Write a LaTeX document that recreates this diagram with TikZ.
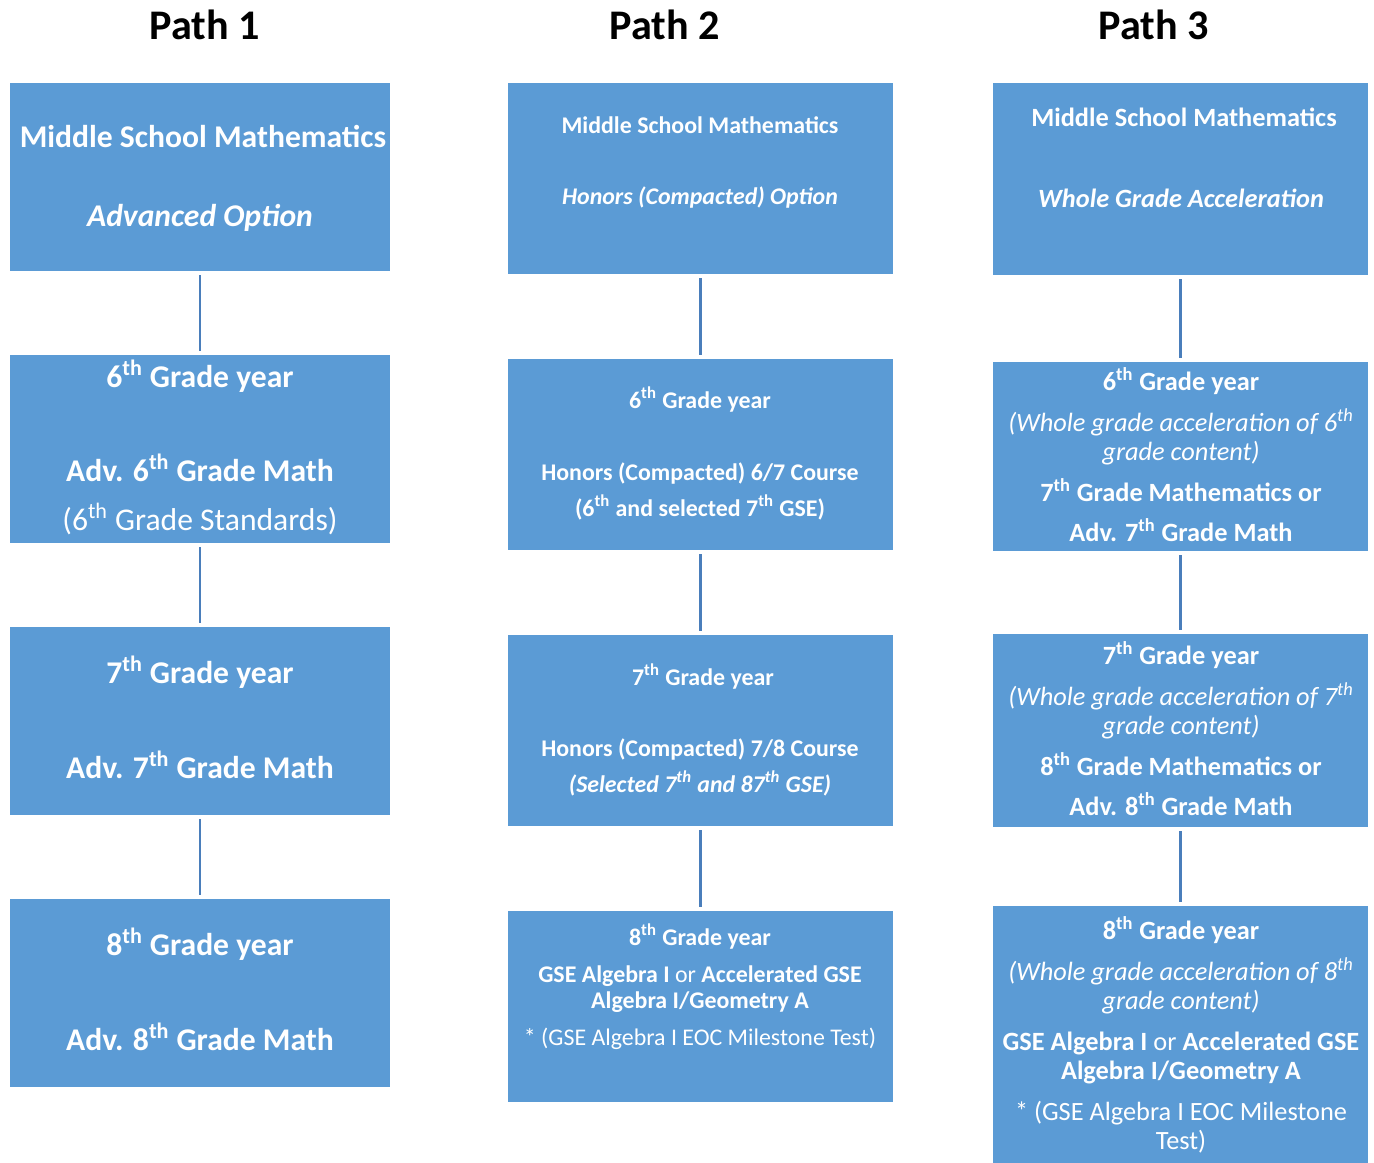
\documentclass[tikz,border=0pt]{standalone}
\usepackage{fontspec}
\setmainfont{Carlito}
\usepackage{tikz}

\definecolor{boxblue}{HTML}{5B9BD5}
\definecolor{linkblue}{HTML}{4A7EBB}
\newcommand{\gth}[1]{#1\textsuperscript{th}}

\begin{document}
\begin{tikzpicture}[x=0.02cm, y=-0.02cm,
    box/.style={fill=boxblue, draw=none, inner sep=0pt},
    link/.style={linkblue, line width=1.4pt, shorten <=2.3pt, shorten >=2.3pt},
    heading/.style={font=\fontsize{24}{28}\selectfont\bfseries, anchor=base, inner sep=0pt},
    one/.style={text=white, font=\fontsize{18}{21}\selectfont\bfseries, anchor=base, inner sep=0pt},
    two/.style={text=white, font=\fontsize{13.6}{16}\selectfont\bfseries, anchor=base, inner sep=0pt},
    three/.style={text=white, font=\fontsize{15}{18}\selectfont\bfseries, anchor=base, inner sep=0pt}]
    \useasboundingbox (0,0) rectangle (1374,1163);

    % headings
    \node[heading] (h1) at (205,39) {Path 1};
    \node[heading] (h2) at (665,39) {Path 2};
    \node[heading] (h3) at (1154,39) {Path 3};

    % path 1
    \node[box, minimum width=7.6cm, minimum height=3.76cm] (p1top) at (200,177) {};
    \node[box, minimum width=7.6cm, minimum height=3.76cm] (p1six) at (200,449) {};
    \node[box, minimum width=7.6cm, minimum height=3.76cm] (p1seven) at (200,721) {};
    \node[box, minimum width=7.6cm, minimum height=3.76cm] (p1eight) at (200,993) {};
    \draw[link] (p1top) -- (p1six);
    \draw[link] (p1six) -- (p1seven);
    \draw[link] (p1seven) -- (p1eight);
    \node[one] (p1topa) at (203,147) {Middle School Mathematics};
    \node[one] (p1topb) at (200,226) {\itshape Advanced Option};
    \node[one] (p1sixa) at (200,387) {\gth{6} Grade year};
    \node[one] (p1sixb) at (200,481) {Adv. \gth{6} Grade Math};
    \node[one] (p1sixc) at (200,530) {\mdseries(\gth{6} Grade Standards)};
    \node[one] (p1sevena) at (200,683) {\gth{7} Grade year};
    \node[one] (p1sevenb) at (200,778) {Adv. \gth{7} Grade Math};
    \node[one] (p1eighta) at (200,955) {\gth{8} Grade year};
    \node[one] (p1eightb) at (200,1050) {Adv. \gth{8} Grade Math};

    % path 2
    \node[box, minimum width=7.7cm, minimum height=3.82cm] (p2top) at (700.5,178.5) {};
    \node[box, minimum width=7.7cm, minimum height=3.82cm] (p2six) at (700.5,454.5) {};
    \node[box, minimum width=7.7cm, minimum height=3.82cm] (p2seven) at (700.5,730.5) {};
    \node[box, minimum width=7.7cm, minimum height=3.82cm] (p2eight) at (700.5,1006.5) {};
    \draw[link] (p2top) -- (p2six);
    \draw[link] (p2six) -- (p2seven);
    \draw[link] (p2seven) -- (p2eight);
    \node[two] (p2topa) at (700,133) {Middle School Mathematics};
    \node[two] (p2topb) at (700,204) {\itshape Honors (Compacted) Option};
    \node[two] (p2sixa) at (700,408) {\gth{6} Grade year};
    \node[two] (p2sixb) at (700,480) {Honors (Compacted) 6/7 Course};
    \node[two] (p2sixc) at (700,516) {(\gth{6} and selected \gth{7} GSE)};
    \node[two] (p2sevena) at (703,685) {\gth{7} Grade year};
    \node[two] (p2sevenb) at (700,756) {Honors (Compacted) 7/8 Course};
    \node[two] (p2sevenc) at (700,792) {\itshape (Selected \gth{7} and \gth{87} GSE)};
    \node[two] (p2eighta) at (700,945) {\gth{8} Grade year};
    \node[two] (p2eightb) at (700,982) {GSE Algebra I \textmd{or} Accelerated GSE};
    \node[two] (p2eightc) at (700,1008) {Algebra I/Geometry A};
    \node[two] (p2eightd) at (700,1045) {\mdseries * (GSE Algebra I EOC Milestone Test)};

    % path 3
    \node[box, minimum width=7.5cm, minimum height=3.84cm] (p3top) at (1180.5,179) {};
    \node[box, minimum width=7.5cm, minimum height=3.78cm] (p3six) at (1180.5,456.5) {};
    \node[box, minimum width=7.5cm, minimum height=3.86cm] (p3seven) at (1180.5,730.5) {};
    \node[box, minimum width=7.5cm, minimum height=5.14cm] (p3eight) at (1180.5,1034.5) {};
    \draw[link] (p3top) -- (p3six);
    \draw[link] (p3six) -- (p3seven);
    \draw[link] (p3seven) -- (p3eight);
    \node[three] (p3topa) at (1184,126) {Middle School Mathematics};
    \node[three] (p3topb) at (1181,207) {\itshape Whole Grade Acceleration};
    \node[three] (p3sixa) at (1181,390) {\gth{6} Grade year};
    \node[three] (p3sixb) at (1181,431) {\mdseries\itshape (Whole grade acceleration of \gth{6}};
    \node[three] (p3sixc) at (1181,460) {\mdseries\itshape grade content)};
    \node[three] (p3sixd) at (1181,501) {\gth{7} Grade Mathematics or};
    \node[three] (p3sixe) at (1181,541) {Adv. \gth{7} Grade Math};
    \node[three] (p3sevena) at (1181,664) {\gth{7} Grade year};
    \node[three] (p3sevenb) at (1181,705) {\mdseries\itshape (Whole grade acceleration of \gth{7}};
    \node[three] (p3sevenc) at (1181,734) {\mdseries\itshape grade content)};
    \node[three] (p3sevend) at (1181,775) {\gth{8} Grade Mathematics or};
    \node[three] (p3sevene) at (1181,815) {Adv. \gth{8} Grade Math};
    \node[three] (p3eighta) at (1181,939) {\gth{8} Grade year};
    \node[three] (p3eightb) at (1181,980) {\mdseries\itshape (Whole grade acceleration of \gth{8}};
    \node[three] (p3eightc) at (1181,1009) {\mdseries\itshape grade content)};
    \node[three] (p3eightd) at (1181,1050) {GSE Algebra I \textmd{or} Accelerated GSE};
    \node[three] (p3eighte) at (1181,1079) {Algebra I/Geometry A};
    \node[three] (p3eightf) at (1181,1120) {\mdseries * (GSE Algebra I EOC Milestone};
    \node[three] (p3eightg) at (1181,1149) {\mdseries Test)};
\end{tikzpicture}
\end{document}
